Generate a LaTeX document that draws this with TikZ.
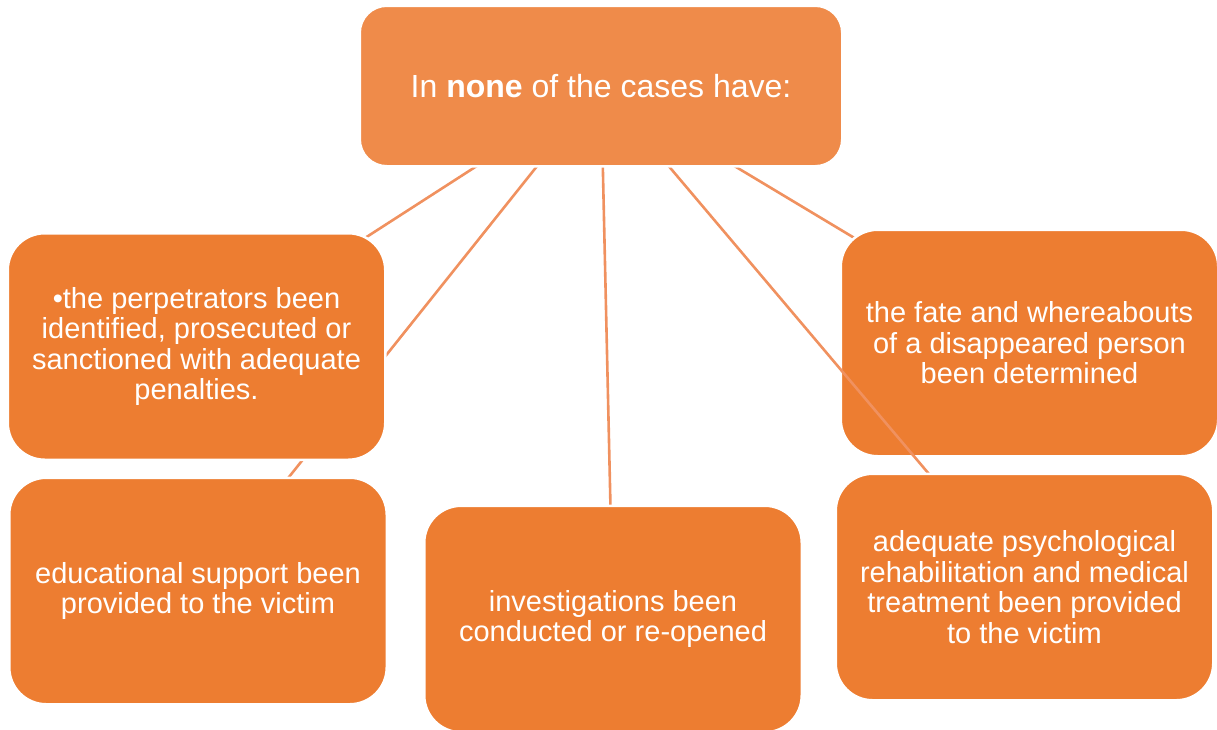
\documentclass[tikz,border=0pt]{standalone}
\usepackage{fontspec}
\setmainfont{Liberation Sans}
\definecolor{topfill}{HTML}{EF8B4A}
\definecolor{boxfill}{HTML}{ED7D31}
\definecolor{linkcol}{HTML}{F0915F}
\pgfdeclarelayer{back}
\pgfdeclarelayer{lower}
\pgfdeclarelayer{middle}
\pgfsetlayers{back,lower,middle,main}
\begin{document}
\begin{tikzpicture}[x=1pt,y=-1pt,
  box/.style={draw=white, line width=2.5pt, fill=boxfill, rounded corners=37pt,
    minimum width=377.5pt, minimum height=226.5pt, inner sep=0pt, align=center,
    text=white, font=\fontsize{29}{30.6}\selectfont},
  topbox/.style={box, fill=topfill, rounded corners=27pt,
    minimum width=482.5pt, minimum height=160.5pt, font=\fontsize{32}{38}\selectfont},
  link/.style={draw=linkcol, line width=2.6pt}]
\useasboundingbox (0,0) rectangle (1217,729);
% boxes
\begin{pgfonlayer}{lower}
\node[box] (lt) at (196.5,346.5) {•the perpetrators been\\identified, prosecuted or\\sanctioned with adequate\\penalties.};
\node[box] (bl) at (198,591) {educational support been\\provided to the victim};
\node[box] (mid) at (613,619) {investigations been\\conducted or re-opened};
\node[box] (rt) at (1029.5,343) {the fate and whereabouts\\of a disappeared person\\been determined};
\end{pgfonlayer}
\node[box] (rb) at (1024.5,587) {adequate psychological\\rehabilitation and medical\\treatment been provided\\to the victim};
\node[topbox] (top) at (601,86) {In \textbf{none} of the cases have:};
% connectors
\begin{pgfonlayer}{back}
\draw[link] (top.center) -- (lt.center);
\draw[link] (top.center) -- (bl.center);
\draw[link] (top.center) -- (mid.center);
\draw[link] (top.center) -- (rt.center);
\end{pgfonlayer}
\begin{pgfonlayer}{middle}
\draw[link] (top.center) -- (rb.center);
\end{pgfonlayer}
\end{tikzpicture}
\end{document}
